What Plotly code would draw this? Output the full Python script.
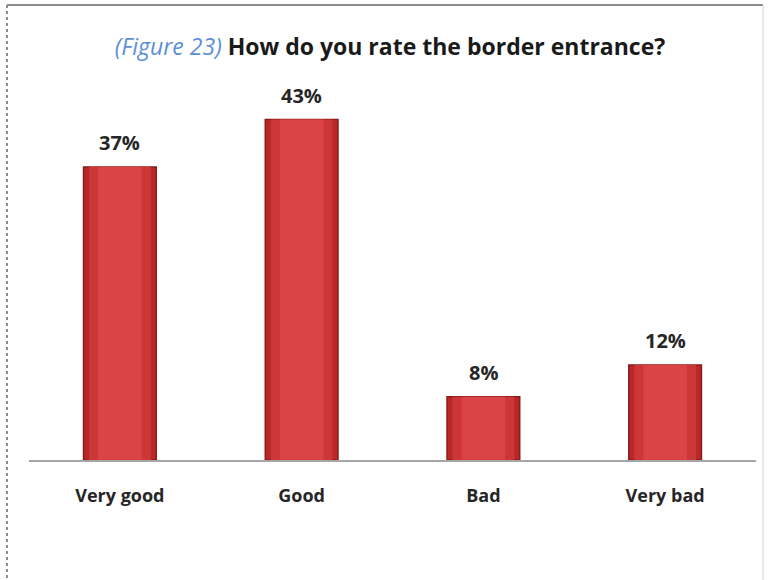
import plotly.graph_objects as go

categories = ["Very good", "Good", "Bad", "Very bad"]
shares = [37, 43, 8, 12]
value_labels = ["37%", "43%", "8%", "12%"]

W, H = 768, 580
ML, MR, MT, MB = 29, 12, 64, 120
PW, PH = W - ML - MR, H - MT - MB
FONT = "Open Sans"


def px_x(p):
    return (p - ML) / PW


def px_y(p):
    return 1 - (p - MT) / PH


fig = go.Figure()

# bar body with dark rim, then progressively lighter inner bands for a rounded look
bands = [(0.40, "#b82828", dict(color="#8a1b1b", width=1.5)),
         (0.34, "#cd3636", dict(width=0)),
         (0.24, "#da4444", dict(width=0))]
for w, col, ln in bands:
    fig.add_trace(go.Bar(
        x=categories, y=shares, width=w,
        marker=dict(color=col, line=ln),
        hoverinfo="skip", showlegend=False,
    ))

for c, v, t in zip(categories, shares, value_labels):
    fig.add_annotation(
        x=c, y=v, text=f"<b>{t}</b>", showarrow=False,
        yshift=24, yanchor="middle",
        font=dict(family=FONT, size=20, color="#262626"),
    )

fig.update_layout(
    width=W, height=H,
    margin=dict(l=ML, r=MR, t=MT, b=MB),
    barmode="overlay",
    paper_bgcolor="white", plot_bgcolor="white",
    font=dict(family=FONT, color="#262626"),
    title=dict(
        text="<i><span style='color:#5b8fd4;font-weight:normal'>(Figure 23)</span></i> <b>How do you rate the border entrance?</b>",
        x=390 / W, xanchor="center", y=1 - 47 / H, yanchor="middle",
        font=dict(family=FONT, size=23, color="#1a1a1a"),
    ),
    xaxis=dict(
        showgrid=False, showline=True, linecolor="#a6a6a6", linewidth=1.5,
        ticks="", tickfont=dict(family=FONT, size=18, color="#262626"),
        ticklabelstandoff=19,
        tickvals=categories, ticktext=[f"<b>{c}</b>" for c in categories],
    ),
    yaxis=dict(range=[0, 50], visible=False, showgrid=False),
    shapes=[
        dict(type="line", xref="paper", yref="paper",
             x0=px_x(7), x1=px_x(763), y0=px_y(5), y1=px_y(5),
             line=dict(color="#8c8c8c", width=2)),
        dict(type="line", xref="paper", yref="paper",
             x0=px_x(7), x1=px_x(7), y0=px_y(5), y1=px_y(580),
             line=dict(color="#8c8c8c", width=2, dash="dot")),
        dict(type="line", xref="paper", yref="paper",
             x0=px_x(763), x1=px_x(763), y0=px_y(5), y1=px_y(580),
             line=dict(color="#d0d0d0", width=1)),
    ],
)

fig.write_html("out.html")
